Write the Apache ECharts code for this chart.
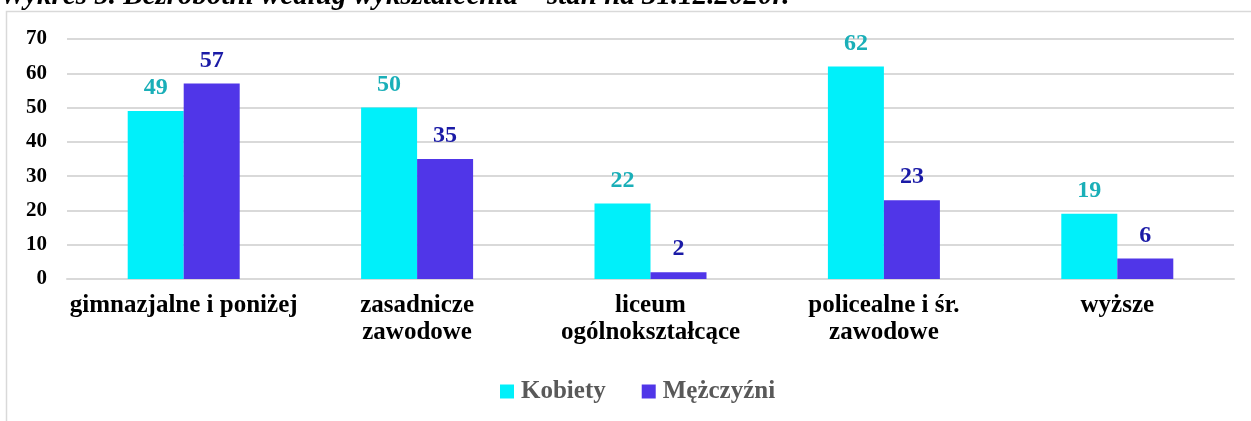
<!DOCTYPE html>
<html>
<head>
<meta charset="utf-8">
<script src="https://cdn.jsdelivr.net/npm/echarts@6/dist/echarts.min.js"></script>
<style>
  html, body { margin: 0; padding: 0; background: #fff; }
  #chart { width: 1251px; height: 421px; }
</style>
</head>
<body>
<div id="chart"></div>
<script>
(function () {
  var categories = ['gimnazjalne i poniżej', 'zasadnicze\nzawodowe', 'liceum\nogólnokształcące', 'policealne i śr.\nzawodowe', 'wyższe'];
  var seriesNames = ['Kobiety', 'Mężczyźni'];
  var kobiety = [49, 50, 22, 62, 19];
  var mezczyzni = [57, 35, 2, 23, 6];
  var titleText = 'Wykres 5. Bezrobotni według wykształcenia – stan na 31.12.2020r.';

  var serif = '"Liberation Serif", "Times New Roman", serif';
  var rule = '#D9D9D9';

  var chart = echarts.init(document.getElementById('chart'), null, { renderer: 'canvas' });
  chart.setOption({
    animation: false,
    graphic: [
      // outer frame of the chart area (right and bottom edges fall outside the picture)
      { type: 'rect', shape: { x: 6.5, y: 11.5, width: 1300, height: 500 }, style: { fill: 'none', stroke: rule, lineWidth: 1.5 }, z: 0 },
      // caption above the frame, cut off by the picture's top edge
      { type: 'text', x: 0, y: -3, style: { text: titleText, font: 'italic bold 29px ' + serif, fill: '#000', verticalAlign: 'middle' }, z: 1 }
    ],
    legend: {
      data: seriesNames,
      left: 500, top: 379, padding: 0,
      itemWidth: 14, itemHeight: 14, itemGap: 36,
      icon: 'rect',
      textStyle: { fontFamily: serif, fontWeight: 'bold', fontSize: 25, color: '#595959', padding: [0, 0, 0, 2] }
    },
    grid: { left: 67, right: 17, top: 39, bottom: 142 },
    xAxis: {
      type: 'category', data: categories,
      axisLine: { lineStyle: { color: rule, width: 2 } },
      axisTick: { show: false },
      axisLabel: { fontFamily: serif, fontWeight: 'bold', fontSize: 25, color: '#000', lineHeight: 27, margin: 13, interval: 0 }
    },
    yAxis: {
      type: 'value', min: 0, max: 70, interval: 10,
      axisLine: { show: false }, axisTick: { show: false },
      axisLabel: { fontFamily: serif, fontWeight: 'bold', fontSize: 21, color: '#000', margin: 20 },
      splitLine: { lineStyle: { color: rule, width: 2 } }
    },
    series: [
      {
        name: seriesNames[0], type: 'bar', data: kobiety, barWidth: 56, barGap: '0%',
        itemStyle: { color: '#00F0FA' },
        label: { show: true, position: 'top', distance: 11, fontFamily: serif, fontWeight: 'bold', fontSize: 24, color: '#1AAFB8' }
      },
      {
        name: seriesNames[1], type: 'bar', data: mezczyzni, barWidth: 56, barGap: '0%',
        itemStyle: { color: '#5036E8' },
        label: { show: true, position: 'top', distance: 11, fontFamily: serif, fontWeight: 'bold', fontSize: 24, color: '#1A1AA6' }
      }
    ]
  });
  window.addEventListener('resize', function () { chart.resize(); });
})();
</script>
</body>
</html>
